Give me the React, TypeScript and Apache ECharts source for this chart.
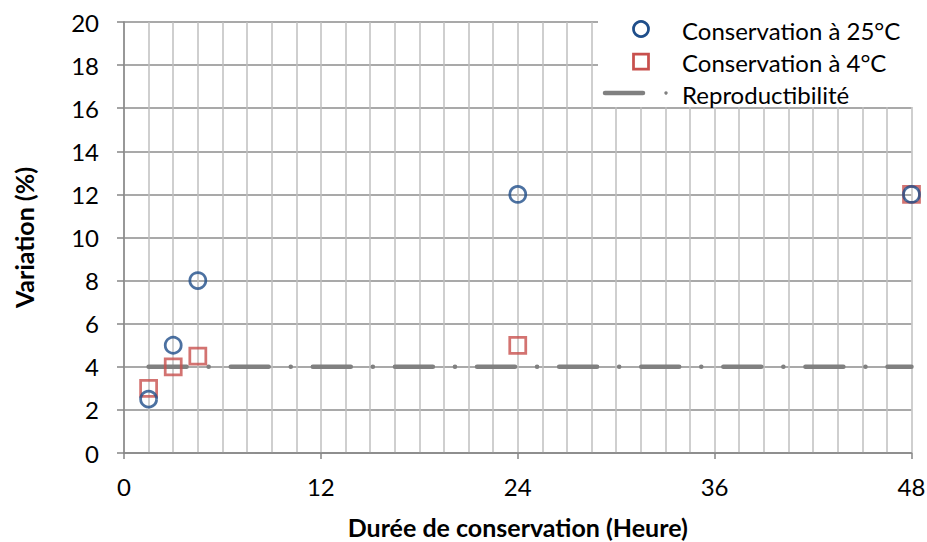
import React, { useEffect, useRef } from "react";
import * as echarts from "echarts";

const xTicks = [0, 12, 24, 36, 48];
const hours25 = [1.5, 3, 4.5, 24, 48];
const var25 = [2.5, 5, 8, 12, 12];
const hours4 = [1.5, 3, 4.5, 24, 48];
const var4 = [3, 4, 4.5, 5, 12];
const reproX = [1.5, 48];
const reproY = [4, 4];
const legendNames = ["Conservation à 25°C", "Conservation à 4°C", "Reproductibilité"];

const BLUE = "#1F4E8A";
const RED = "#C8504D";
const GRAY = "#808080";
const FONT = "Lato, 'Open Sans', sans-serif";

export default function App() {
  const ref = useRef<HTMLDivElement>(null);
  useEffect(() => {
    document.body.style.margin = "0";
    const chart = echarts.init(ref.current!, null, { renderer: "svg" });
    const option: any = {
      animation: false,
      backgroundColor: "#ffffff",
      textStyle: { fontFamily: FONT, color: "#000" },
      grid: { left: 124, right: 15.5, top: 22, bottom: 89, containLabel: false, outerBoundsMode: "none" },
      xAxis: {
        type: "value",
        min: xTicks[0],
        max: xTicks[xTicks.length - 1],
        interval: 12,
        name: "Durée de conservation (Heure)",
        nameLocation: "middle",
        nameGap: 61,
        nameTextStyle: { fontSize: 25, fontWeight: "bold", color: "#000", fontFamily: FONT },
        axisLine: { show: true, lineStyle: { color: "#868686", width: 1.5 } },
        axisTick: { show: true, length: 6, lineStyle: { color: "#868686", width: 1.5 } },
        axisLabel: { fontSize: 24, color: "#000", margin: 21, fontFamily: FONT },
        splitLine: { show: true, lineStyle: { color: "#BFBFBF", width: 1.5 } },
        minorTick: { show: false, splitNumber: 8 },
        minorSplitLine: { show: true, lineStyle: { color: "#BFBFBF", width: 1.5 } },
      },
      yAxis: {
        type: "value",
        min: 0,
        max: 20,
        interval: 2,
        name: "Variation (%)",
        nameLocation: "middle",
        nameGap: 88,
        nameRotate: 90,
        nameTextStyle: { fontSize: 25, fontWeight: "bold", color: "#000", fontFamily: FONT },
        axisLine: { show: true, lineStyle: { color: "#868686", width: 1.5 } },
        axisTick: { show: true, length: 7, lineStyle: { color: "#868686", width: 1.5 } },
        axisLabel: { fontSize: 24, color: "#000", margin: 25, fontFamily: FONT },
        splitLine: { show: true, lineStyle: { color: "#8C8C8C", width: 1.5 } },
      },
      series: [
        {
          name: legendNames[2],
          type: "line",
          data: reproX.map((x, i) => [x, reproY[i]]),
          showSymbol: false,
          symbol: "none",
          lineStyle: { color: GRAY, width: 4.5, type: [38, 22, 0.1, 22], cap: "round" },
          z: 2,
        },
        {
          name: legendNames[1],
          type: "scatter",
          data: hours4.map((x, i) => [x, var4[i]]),
          symbol: "rect",
          symbolSize: 16,
          itemStyle: { color: "transparent", borderColor: RED, borderWidth: 2.75 },
          z: 3,
        },
        {
          name: legendNames[0],
          type: "scatter",
          data: hours25.map((x, i) => [x, var25[i]]),
          symbol: "circle",
          symbolSize: 16,
          itemStyle: { color: "transparent", borderColor: BLUE, borderWidth: 2.75 },
          z: 4,
        },
      ],
      graphic: [
        { type: "rect", shape: { x: 598, y: 16, width: 316, height: 91 }, style: { fill: "#fff" }, z: 10 },
        { type: "circle", shape: { cx: 641, cy: 29, r: 7.5 }, style: { fill: "none", stroke: BLUE, lineWidth: 2.75 }, z: 11 },
        { type: "rect", shape: { x: 633.5, y: 54, width: 15, height: 15 }, style: { fill: "none", stroke: RED, lineWidth: 2.75 }, z: 11 },
        { type: "line", shape: { x1: 605, y1: 93, x2: 643, y2: 93 }, style: { stroke: GRAY, lineWidth: 4.5, lineCap: "round" }, z: 11 },
        { type: "circle", shape: { cx: 666, cy: 93, r: 1.7 }, style: { fill: GRAY }, z: 11 },
        { type: "text", x: 682, y: 30, style: { text: legendNames[0], font: `24px ${FONT}`, fill: "#000", verticalAlign: "middle", align: "left" }, z: 11 },
        { type: "text", x: 682, y: 62, style: { text: legendNames[1], font: `24px ${FONT}`, fill: "#000", verticalAlign: "middle", align: "left" }, z: 11 },
        { type: "text", x: 682, y: 94, style: { text: legendNames[2], font: `24px ${FONT}`, fill: "#000", verticalAlign: "middle", align: "left" }, z: 11 },
      ],
    };
    chart.setOption(option);
    return () => chart.dispose();
  }, []);
  return <div ref={ref} style={{ position: "fixed", left: 0, top: 0, width: 927, height: 542 }} />;
}
